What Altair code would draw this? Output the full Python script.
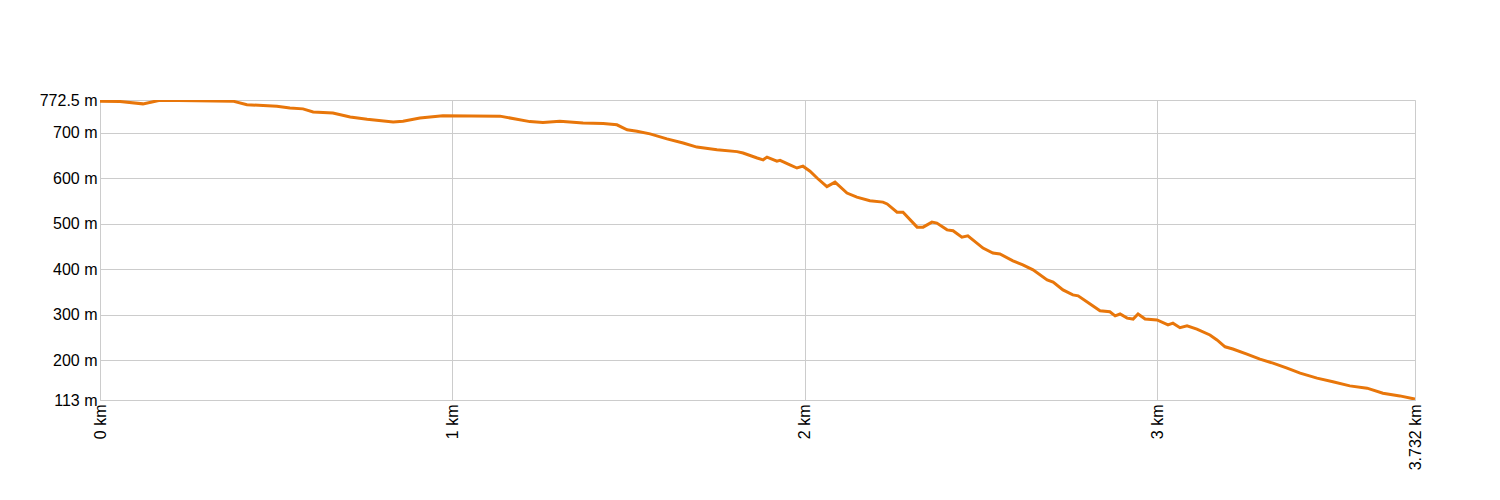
import altair as alt
import pandas as pd

dist_km = [0.0, 0.057, 0.122, 0.170, 0.377, 0.417, 0.502, 0.539, 0.576, 0.605, 0.661, 0.710,
           0.758, 0.832, 0.860, 0.908, 0.973, 1.135, 1.220, 1.257, 1.305, 1.371, 1.428, 1.467,
           1.496, 1.524, 1.561, 1.609, 1.655, 1.694, 1.751, 1.808, 1.825, 1.865, 1.882, 1.893,
           1.921, 1.930, 1.958, 1.978, 1.995, 2.015, 2.035, 2.063, 2.086, 2.120, 2.148, 2.185,
           2.222, 2.234, 2.262, 2.279, 2.319, 2.336, 2.361, 2.375, 2.404, 2.421, 2.446, 2.463,
           2.506, 2.534, 2.554, 2.591, 2.619, 2.648, 2.688, 2.705, 2.733, 2.761, 2.776, 2.810,
           2.838, 2.866, 2.881, 2.895, 2.915, 2.932, 2.946, 2.966, 3.000, 3.031, 3.045, 3.065,
           3.085, 3.113, 3.150, 3.170, 3.193, 3.215, 3.255, 3.292, 3.329, 3.369, 3.406, 3.454,
           3.499, 3.547, 3.596, 3.641, 3.689, 3.732]
elev_m = [770, 769, 764, 772, 770, 762, 759, 755, 753, 746, 744, 735,
          730, 724, 726, 733, 738, 737, 725, 723, 726, 722, 721, 718,
          707, 704, 698, 687, 678, 669, 663, 659, 656, 645, 641, 647,
          638, 640, 630, 623, 627, 616, 601, 582, 592, 568, 559, 551,
          548, 544, 526, 526, 493, 493, 504, 502, 487, 485, 471, 474,
          447, 436, 434, 419, 410, 399, 377, 372, 355, 344, 342, 324,
          309, 307, 298, 302, 293, 291, 302, 291, 289, 278, 282, 272,
          276, 269, 256, 245, 230, 225, 214, 203, 194, 183, 172, 161,
          153, 144, 139, 128, 122, 115]

x_ticks = [0, 1, 2, 3, 3.732]
y_ticks = [113, 200, 300, 400, 500, 600, 700, 772.5]

df = pd.DataFrame({"km": dist_km, "m": elev_m})

font = "Liberation Sans"

chart = alt.Chart(df).mark_line(color="#e8760a", strokeWidth=3, clip=True).encode(
    x=alt.X("km:Q", scale=alt.Scale(domain=[0, 3.732], nice=False, zero=False),
            axis=alt.Axis(values=x_ticks, labelExpr="datum.value + ' km'", labelAngle=-90,
                          labelFont=font, labelFontSize=16, labelColor="#000",
                          ticks=False, labelPadding=4, title=None,
                          gridColor="#cccccc", domainColor="#cccccc", labelOverlap=False,
                          labelFlush=False, labelBound=False)),
    y=alt.Y("m:Q", scale=alt.Scale(domain=[113, 772.5], nice=False, zero=False),
            axis=alt.Axis(values=y_ticks, labelExpr="datum.value + ' m'",
                          labelFont=font, labelFontSize=16, labelColor="#000",
                          ticks=False, labelPadding=3, title=None,
                          gridColor="#cccccc", domainColor="#cccccc", labelOverlap=False,
                          labelFlush=False, labelBound=False)),
).properties(
    width=1315, height=300,
    autosize=alt.AutoSizeParams(type="none"),
    padding={"left": 92, "top": 92, "right": 70, "bottom": 80},
).configure_view(stroke="#cccccc").configure(background="white")

chart.save("out.html", embed_options={"renderer": "svg", "actions": False})
